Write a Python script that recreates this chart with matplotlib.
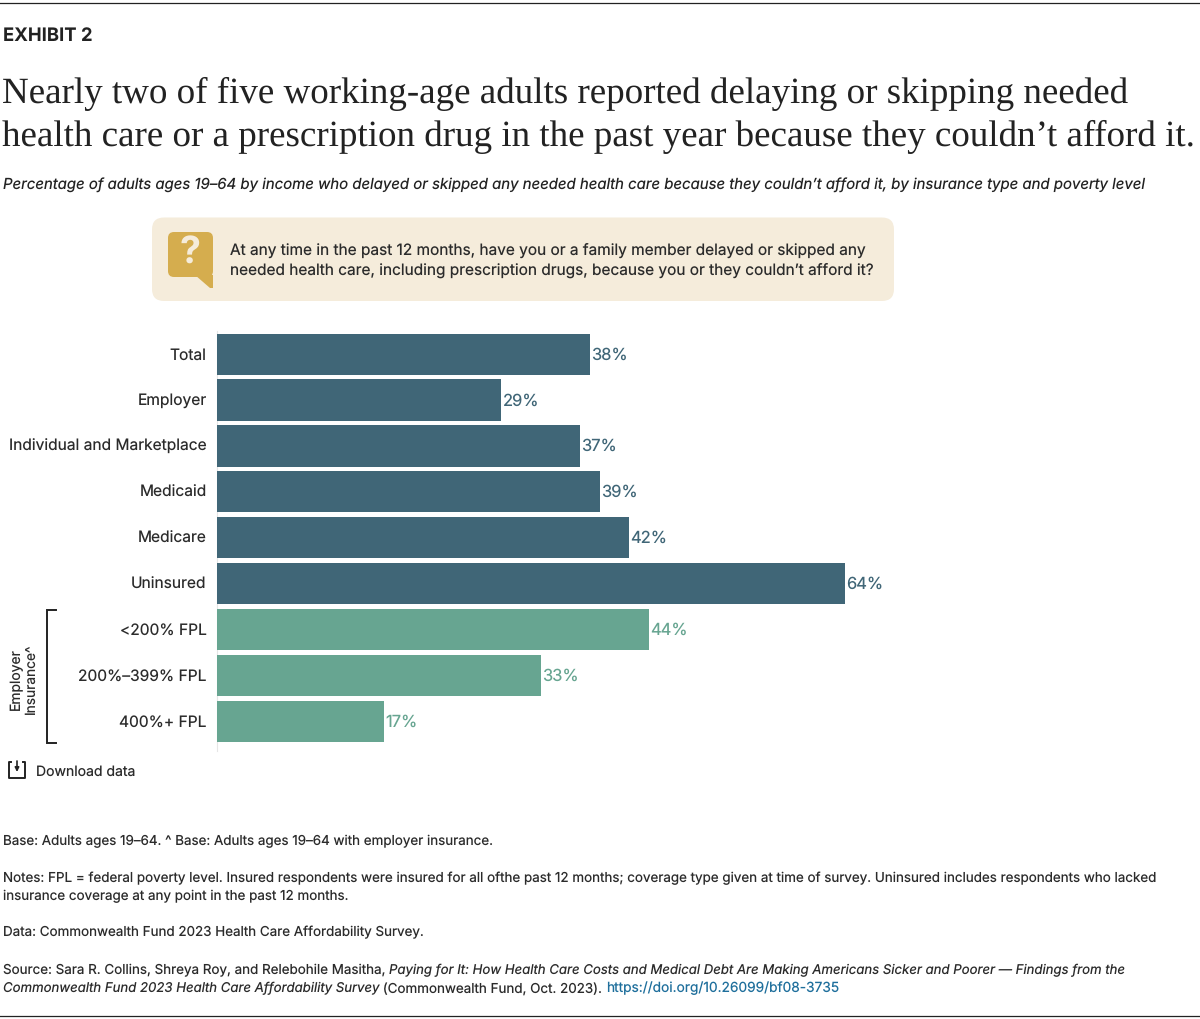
#!/usr/bin/env python
import matplotlib
matplotlib.use("Agg")
import matplotlib.pyplot as plt
from matplotlib.patches import FancyBboxPatch, Polygon
from matplotlib.transforms import ScaledTranslation

plt.rcParams["text.hinting"] = "none"
plt.rcParams["text.hinting_factor"] = 1

categories = ["Total", "Employer", "Individual and Marketplace", "Medicaid", "Medicare",
              "Uninsured", "<200% FPL", "200%\u2013399% FPL", "400%+ FPL"]
values = [38, 29, 37, 39, 42, 64, 44, 33, 17]
groups = ["coverage"] * 6 + ["income"] * 3

BLUE = "#406677"
GREEN = "#67A591"
INK = "#2b2b2b"
SANS = "Inter"
SERIF = "Liberation Serif"
colors = {"coverage": BLUE, "income": GREEN}

title_lines = ["Nearly two of five working-age adults reported delaying or skipping needed",
               "health care or a prescription drug in the past year because they couldn\u2019t afford it."]
subtitle = ("Percentage of adults ages 19\u201364 by income who delayed or skipped any needed health care "
            "because they couldn\u2019t afford it, by insurance type and poverty level")
question = ["At any time in the past 12 months, have you or a family member delayed or skipped any",
            "needed health care, including prescription drugs, because you or they couldn\u2019t afford it?"]

fig = plt.figure(figsize=(12, 10.2), dpi=100, facecolor="white")

# overlay in pixel coordinates for everything around the chart
bg = fig.add_axes([0, 0, 1, 1])
bg.set_xlim(0, 1200)
bg.set_ylim(1020, 0)
bg.axis("off")

# bars
x0, x1 = 217, 1000
top, bottom = 332, 752
y_first = 355.2
ax = fig.add_axes([x0 / 1200, 1 - bottom / 1020, (x1 - x0) / 1200, (bottom - top) / 1020])
ax.patch.set_alpha(0)
ax.set_xlim(0, (x1 - x0) / 9.81)
ax.set_ylim((bottom - y_first) / 45.875, (top - y_first) / 45.875)
ypos = list(range(len(categories)))
ax.barh(ypos, values, height=0.9, color=[colors[g] for g in groups], zorder=3)
for y, v, g in zip(ypos, values, groups):
    ax.annotate(f"{v}%", (v, y), xytext=(1.0, 1.3), textcoords="offset points", va="center_baseline",
                ha="left", fontsize=11.9, color=colors[g], family=SANS)
ax.set_yticks(ypos, categories, fontsize=11.2, color=INK, family=SANS)
ax.tick_params(axis="y", length=0, pad=7.5)
for lab in ax.get_yticklabels():
    lab.set_verticalalignment("center_baseline")
    lab.set_transform(lab.get_transform() + ScaledTranslation(0, 0.016, fig.dpi_scale_trans))
ax.set_xticks([])
for s in ["top", "right", "bottom"]:
    ax.spines[s].set_visible(False)
ax.spines["left"].set_color("#e6e6e6")
ax.spines["left"].set_linewidth(0.8)
ax.spines["left"].set_zorder(1)


def txt(x, y, s, size=10, color=INK, **kw):
    kw.setdefault("family", SANS)
    kw.setdefault("va", "baseline")
    return bg.text(x, y, s, fontsize=size, color=color, **kw)


def runs(x, y, parts):
    # consecutive pieces of text on one line, each starting where the last ended
    r = fig.canvas.get_renderer()
    for s, style, color, size in parts:
        t = txt(x, y, s, size, color, style=style)
        x += t.get_window_extent(r).width


def fit_title(x, y, s, width):
    # serif stand-in has other widths, so set the size from the line's width
    t = txt(x, y, s, 27, "#222222", family=SERIF)
    w = t.get_window_extent(fig.canvas.get_renderer()).width
    t.set_fontsize(27 * width / w)


# rules
bg.plot([0, 1200], [3.5, 3.5], color="#222222", lw=0.9)
bg.plot([0, 1200], [1016.5, 1016.5], color="#222222", lw=0.9)

# header
txt(3, 41, "EXHIBIT 2", 13.3, "#222222", weight="bold")
fit_title(2, 103, title_lines[0], 1141)
fit_title(2, 146, title_lines[1], 1212)
txt(3, 188.5, subtitle, 10.78, "#222222", style="italic")

# question box
bg.add_patch(FancyBboxPatch((152, 218.5), 742, 83.5, boxstyle="round,pad=0,rounding_size=12",
                            fc="#F5ECDB", ec="none"))
bg.add_patch(FancyBboxPatch((168, 233), 45, 45, boxstyle="round,pad=0,rounding_size=6",
                            fc="#D5AD4E", ec="none"))
bg.add_patch(Polygon([[195, 276], [213, 276], [213, 289], [210, 289]], fc="#D5AD4E", ec="none"))
txt(190.5, 254, "?", 27, "#F5ECDB", weight="bold", ha="center", va="center")
txt(230, 254.5, question[0], 11.1)
txt(230, 274.5, question[1], 11.1)

# bracket for employer insurance rows
bg.plot([56, 47, 47, 56], [611, 611, 743.5, 743.5], color="#222222", lw=1.4, solid_joinstyle="miter")
txt(16, 679, "Employer", 10, rotation=90, ha="center", va="center")
txt(31, 678.5, "Insurance^", 9.9, rotation=90, ha="center", va="center")

# download link
bg.plot([11, 9, 9, 25, 25, 23], [763, 763, 779, 779, 763, 763], color="#222222", lw=1.4,
        solid_joinstyle="round")
bg.annotate("", xy=(17, 773), xytext=(17, 762),
            arrowprops=dict(arrowstyle="-|>", color="#222222", lw=1.2, mutation_scale=6,
                            shrinkA=0, shrinkB=0))
txt(36, 776, "Download data", 10.1)

# footer
F = 9.67
IT = 9.5
txt(3, 845, "Base: Adults ages 19\u201364. ^ Base: Adults ages 19\u201364 with employer insurance.", F)
txt(3, 882, "Notes: FPL = federal poverty level. Insured respondents were insured for all ofthe past 12 months; "
            "coverage type given at time of survey. Uninsured includes respondents who lacked", F)
txt(3, 900, "insurance coverage at any point in the past 12 months.", F)
txt(3, 936.5, "Data: Commonwealth Fund 2023 Health Care Affordability Survey.", F)
runs(3, 974.5, [("Source: Sara R. Collins, Shreya Roy, and Relebohile Masitha, ", "normal", INK, F),
                ("Paying for It: How Health Care Costs and Medical Debt Are Making Americans Sicker and Poorer "
                 "\u2014 Findings from the", "italic", INK, IT)])
runs(3, 992.5, [("Commonwealth Fund 2023 Health Care Affordability Survey", "italic", INK, IT),
                (" (Commonwealth Fund, Oct. 2023). ", "normal", INK, F),
                ("https://doi.org/10.26099/bf08-3735", "normal", "#1F6F9C", 9.9)])

fig.savefig("out.png", dpi=100, facecolor="white")
